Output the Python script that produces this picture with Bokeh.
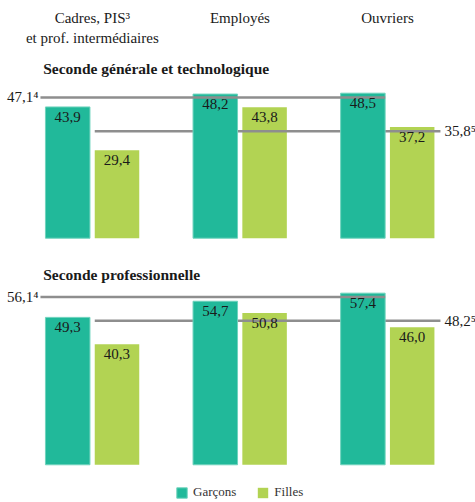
from bokeh.plotting import figure
from bokeh.models import Range1d, ColumnDataSource, Legend, LegendItem, Label
from bokeh.core.properties import value
from bokeh.embed import file_html
from bokeh.resources import INLINE

# ---- data ----
categories = ["Cadres, PIS³\net prof. intermédiaires", "Employés", "Ouvriers"]
panel_titles = ["Seconde générale et technologique", "Seconde professionnelle"]
garcons_gt = [43.9, 48.2, 48.5]
filles_gt = [29.4, 43.8, 37.2]
garcons_pro = [49.3, 54.7, 57.4]
filles_pro = [40.3, 50.8, 46.0]
ref_garcons = [47.1, 56.1]
ref_filles = [35.8, 48.2]
ref_garcons_labels = ["47,1⁴", "56,1⁴"]
ref_filles_labels = ["35,8⁵", "48,2⁵"]
series_names = ["Garçons", "Filles"]

# ---- style ----
C_G = "#21B99A"
C_F = "#B2D353"
C_LINE = "#8E8E8E"
TXT = "#1a1a1a"
FONT = "Liberation Serif"

W, H = 475, 502
GROUP_PX = 147.6
OFF = 0.167
BW = 0.3015
PX = 1.0 / GROUP_PX  # one pixel in x data units

def fmt(v):
    return f"{v:.1f}".replace(".", ",")

p = figure(width=W, height=H, output_backend="svg", toolbar_location=None,
           x_range=Range1d(-0.6223, 2.596), y_range=Range1d(-88.39, 79.50),
           min_border=0, outline_line_color=None)
p.extra_y_ranges = {"pro": Range1d(-12.61, 155.28)}
p.xaxis.visible = False
p.yaxis.visible = False
p.grid.visible = False
p.background_fill_color = "white"

xs = list(range(len(categories)))
xg = [x - OFF for x in xs]
xf = [x + OFF for x in xs]

legend_renderers = None
for k, (gvals, fvals, yname) in enumerate([(garcons_gt, filles_gt, "default"),
                                            (garcons_pro, filles_pro, "pro")]):
    src_g = ColumnDataSource(dict(x=xg, top=gvals, lab=[fmt(v) for v in gvals]))
    src_f = ColumnDataSource(dict(x=xf, top=fvals, lab=[fmt(v) for v in fvals]))
    rf = p.vbar(x="x", top="top", bottom=0, width=BW, source=src_f, y_range_name=yname,
                fill_color=C_F, line_color=None)
    # girls reference line (drawn under boys bars)
    fx0 = xf[0] - BW / 2
    fx1 = xf[-1] + BW / 2 + 6 * PX
    p.segment(x0=[fx0], x1=[fx1], y0=[ref_filles[k]], y1=[ref_filles[k]],
              y_range_name=yname, line_color=C_LINE, line_width=2.5)
    rg = p.vbar(x="x", top="top", bottom=0, width=BW, source=src_g, y_range_name=yname,
                fill_color=C_G, line_color="#6fd3bd", line_width=1)
    gx0 = xg[0] - BW / 2 - 5 * PX
    gx1 = xg[-1] + BW / 2
    p.segment(x0=[gx0], x1=[gx1], y0=[ref_garcons[k]], y1=[ref_garcons[k]],
              y_range_name=yname, line_color=C_LINE, line_width=2.5)
    # value labels
    for src in (src_g, src_f):
        p.text(x="x", y="top", text="lab", source=src, y_range_name=yname,
               text_align="center", text_baseline="middle", y_offset=10,
               text_font=value(FONT), text_font_size="15px", text_color=TXT)
    # reference labels
    p.text(x=[gx0], y=[ref_garcons[k]], text=[ref_garcons_labels[k]], y_range_name=yname,
           text_align="right", text_baseline="middle", x_offset=-2,
           text_font=value(FONT), text_font_size="15px", text_color=TXT)
    p.text(x=[fx1], y=[ref_filles[k]], text=[ref_filles_labels[k]], y_range_name=yname,
           text_align="left", text_baseline="middle", x_offset=4,
           text_font=value(FONT), text_font_size="15px", text_color=TXT)
    if k == 0:
        legend_renderers = (rg, rf)

# category labels at top
p.text(x=xs, y=[76.2] * 3, text=categories, text_align="center", text_baseline="top",
       text_font=value(FONT), text_font_size="15px", text_color=TXT, text_line_height=1.2)

# panel titles
for t, yy in zip(panel_titles, [434, 228]):
    p.add_layout(Label(x=42.7, y=yy, x_units="screen", y_units="screen", text=t,
                       text_font=FONT, text_font_size="15.5px", text_font_style="bold",
                       text_baseline="middle", text_color=TXT))

legend = Legend(items=[LegendItem(label=series_names[0], renderers=[legend_renderers[0]]),
                       LegendItem(label=series_names[1], renderers=[legend_renderers[1]])],
                orientation="horizontal", location=(175, 2),
                glyph_width=13, glyph_height=13, label_height=13, label_standoff=5,
                spacing=20, padding=0, margin=0, border_line_alpha=0,
                background_fill_alpha=0, label_text_font=FONT,
                label_text_font_size="13px", label_text_color="#333333")
p.add_layout(legend)

open("out.html", "w").write(file_html(p, INLINE))
